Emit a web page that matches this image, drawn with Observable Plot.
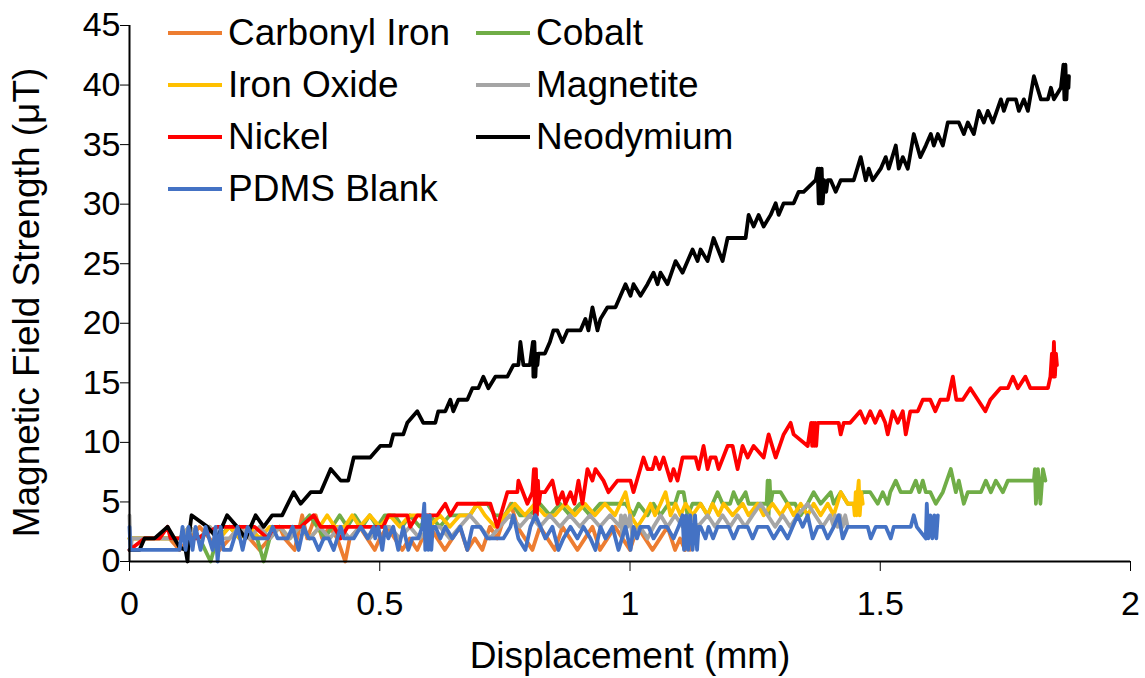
<!DOCTYPE html>
<html>
<head>
<meta charset="utf-8">
<script src="https://cdn.jsdelivr.net/npm/d3@7"></script>
<script src="https://cdn.jsdelivr.net/npm/@observablehq/plot@0.6"></script>
<style>
  html, body { margin: 0; padding: 0; background: #fff; }
  #chart { position: relative; width: 1145px; height: 678px; font-family: "Liberation Sans", Arial, sans-serif; color: #000; }
  #legend { position: absolute; left: 168px; top: 7px; display: grid; grid-template-columns: 308px auto; }
  .item { display: flex; align-items: center; height: 52px; font-size: 37px; white-space: nowrap; }
  .swatch { width: 54px; height: 4px; margin-right: 6px; flex: none; }
</style>
</head>
<body>
<div id="chart"><div id="legend"></div></div>
<script>
// Axis ticks and titles
const xTicks = [0, 0.5, 1, 1.5, 2];
const yTicks = [0, 5, 10, 15, 20, 25, 30, 35, 40, 45];
const xTitle = "Displacement (mm)";
const yTitle = "Magnetic Field Strength (\u03bcT)";

// Series names (legend order) and their line colours
const names = ["Carbonyl Iron", "Cobalt", "Iron Oxide", "Magnetite", "Nickel", "Neodymium", "PDMS Blank"];
const colors = ["#ED7D31", "#70AD47", "#FFC000", "#A5A5A5", "#FF0000", "#000000", "#4472C4"];

// Readings: [displacement (mm), field strength (µT)]
const carbonylIron = [[0,1.94],[0.06,1.94],[0.08,1.94],[0.1,0.97],[0.12,1.94],[0.14,2.91],[0.16,1.94],[0.18,0.97],[0.2,1.94],[0.22,2.91],[0.24,1.94],[0.26,0.97],[0.28,1.94],[0.3,2.91],[0.31,1.94],[0.33,0.97],[0.345,3.88],[0.355,1.94],[0.372,3.88],[0.385,1.94],[0.4,2.91],[0.415,1.94],[0.431,0],[0.44,1.94],[0.46,2.91],[0.475,1.94],[0.49,0.97],[0.5,1.94],[0.515,2.91],[0.53,1.94],[0.545,0.97],[0.56,1.94],[0.575,0.97],[0.585,1.94],[0.6,2.91],[0.615,1.94],[0.63,0.97],[0.645,1.94],[0.66,2.91],[0.675,0.97],[0.69,1.94],[0.705,0.97],[0.72,2.91],[0.735,1.94],[0.75,3.88],[0.762,4.85],[0.775,2.91],[0.79,1.94],[0.805,0.97],[0.82,2.91],[0.835,1.94],[0.85,0.97],[0.865,2.91],[0.88,1.94],[0.895,0.97],[0.91,1.94],[0.925,2.91],[0.94,0.97],[0.955,1.94],[0.97,2.91],[0.985,1.94],[1.0,0.97],[1.015,2.91],[1.03,1.94],[1.045,0.97],[1.06,1.94],[1.075,2.91],[1.09,0.97],[1.1,1.94],[1.11,0.97],[1.115,2.91],[1.12,0.97]];
const cobalt = [[0,1.94],[0.1,1.94],[0.12,2.91],[0.14,1.94],[0.162,0],[0.175,1.94],[0.2,2.91],[0.22,1.94],[0.24,2.91],[0.255,1.94],[0.268,0],[0.28,1.94],[0.3,2.91],[0.32,1.94],[0.34,2.91],[0.36,3.88],[0.375,2.91],[0.39,1.94],[0.405,2.91],[0.42,3.88],[0.435,2.91],[0.45,3.88],[0.465,2.91],[0.48,3.88],[0.495,2.91],[0.51,3.88],[0.53,3.88],[0.545,2.91],[0.56,3.88],[0.58,2.91],[0.6,3.88],[0.62,2.91],[0.64,3.88],[0.66,3.88],[0.68,3.88],[0.695,4.85],[0.715,4.85],[0.73,3.88],[0.75,3.88],[0.765,4.85],[0.78,3.88],[0.8,3.88],[0.82,4.85],[0.84,3.88],[0.86,4.85],[0.88,3.88],[0.9,4.85],[0.92,3.88],[0.94,4.85],[0.97,4.85],[0.991,4.85],[1.007,3.88],[1.017,4.85],[1.035,3.88],[1.047,4.85],[1.061,3.88],[1.077,4.85],[1.09,4.85],[1.097,5.82],[1.107,5.82],[1.115,3.88],[1.125,4.85],[1.141,4.85],[1.155,3.88],[1.175,5.82],[1.185,4.85],[1.2,4.85],[1.207,5.82],[1.217,4.85],[1.231,5.82],[1.237,4.85],[1.273,4.85],[1.275,6.79],[1.277,3.88],[1.279,6.79],[1.281,4.85],[1.285,5.82],[1.301,5.82],[1.315,4.85],[1.33,4.85],[1.341,3.88],[1.355,4.85],[1.367,5.82],[1.381,4.85],[1.401,5.82],[1.407,4.85],[1.421,5.82],[1.435,4.85],[1.45,4.85],[1.465,5.82],[1.48,5.82],[1.495,4.85],[1.505,5.82],[1.515,4.85],[1.52,5.82],[1.531,6.79],[1.541,5.82],[1.561,5.82],[1.571,6.79],[1.578,5.82],[1.585,6.79],[1.591,5.82],[1.6,5.82],[1.611,4.85],[1.625,5.82],[1.641,7.76],[1.651,5.82],[1.657,6.79],[1.667,4.85],[1.675,5.82],[1.701,5.82],[1.711,6.79],[1.721,5.82],[1.731,6.79],[1.745,5.82],[1.755,6.79],[1.807,6.79],[1.809,7.76],[1.811,4.85],[1.815,7.76],[1.82,4.85],[1.825,7.76],[1.83,6.79]];
const ironOxide = [[0,1.94],[0.1,1.94],[0.12,2.91],[0.14,1.94],[0.16,2.91],[0.18,1.94],[0.2,2.91],[0.22,1.94],[0.24,2.91],[0.26,1.94],[0.28,2.91],[0.3,2.91],[0.32,1.94],[0.34,2.91],[0.36,1.94],[0.38,2.91],[0.395,3.88],[0.41,2.91],[0.43,2.91],[0.445,3.88],[0.46,2.91],[0.48,3.88],[0.5,2.91],[0.52,3.88],[0.54,2.91],[0.56,3.88],[0.58,3.88],[0.6,2.91],[0.62,3.88],[0.64,2.91],[0.66,3.88],[0.68,3.88],[0.695,4.85],[0.71,3.88],[0.73,2.91],[0.75,3.88],[0.77,4.85],[0.79,3.88],[0.81,4.85],[0.83,3.88],[0.85,3.88],[0.87,4.85],[0.89,3.88],[0.91,4.85],[0.93,3.88],[0.95,4.85],[0.97,3.88],[0.991,5.82],[1.001,3.88],[1.015,2.91],[1.03,3.88],[1.041,4.85],[1.05,3.88],[1.061,4.85],[1.071,5.82],[1.081,3.88],[1.091,4.85],[1.101,3.88],[1.111,4.85],[1.125,3.88],[1.141,4.85],[1.155,3.88],[1.165,4.85],[1.177,3.88],[1.187,4.85],[1.205,3.88],[1.225,4.85],[1.237,3.88],[1.255,4.85],[1.267,3.88],[1.285,4.85],[1.301,3.88],[1.315,4.85],[1.327,3.88],[1.341,4.85],[1.355,3.88],[1.367,4.85],[1.381,3.88],[1.395,4.85],[1.407,3.88],[1.421,5.82],[1.435,4.85],[1.447,4.85],[1.449,3.88],[1.451,5.82],[1.453,3.88],[1.455,5.82],[1.457,6.79],[1.459,3.88],[1.462,5.82],[1.465,4.85]];
const magnetite = [[0,3.88],[0.002,0.97],[0.005,1.94],[0.1,1.94],[0.12,2.91],[0.14,1.94],[0.16,2.91],[0.18,1.94],[0.2,1.94],[0.22,2.91],[0.24,1.94],[0.26,2.91],[0.28,1.94],[0.3,2.91],[0.32,1.94],[0.34,2.91],[0.36,1.94],[0.38,2.91],[0.4,1.94],[0.42,2.91],[0.44,1.94],[0.46,2.91],[0.48,1.94],[0.5,2.91],[0.52,2.91],[0.54,1.94],[0.56,2.91],[0.58,1.94],[0.6,2.91],[0.62,2.91],[0.64,1.94],[0.66,2.91],[0.68,3.88],[0.7,2.91],[0.72,1.94],[0.74,2.91],[0.76,3.88],[0.78,2.91],[0.8,3.88],[0.82,2.91],[0.84,3.88],[0.86,2.91],[0.88,3.88],[0.9,2.91],[0.92,3.88],[0.94,2.91],[0.96,3.88],[0.98,2.91],[0.982,3.88],[0.985,1.94],[0.99,3.88],[0.995,2.91],[1.0,3.88],[1.005,1.94],[1.02,2.91],[1.035,1.94],[1.047,2.91],[1.061,3.88],[1.075,2.91],[1.09,3.88],[1.105,2.91],[1.12,3.88],[1.135,2.91],[1.155,3.88],[1.17,2.91],[1.185,3.88],[1.2,2.91],[1.215,3.88],[1.23,2.91],[1.245,3.88],[1.261,4.85],[1.275,3.88],[1.29,2.91],[1.305,3.88],[1.32,2.91],[1.335,3.88],[1.355,4.85],[1.37,3.88],[1.385,2.91],[1.4,3.88],[1.407,2.91],[1.41,3.88],[1.415,2.91],[1.42,3.88],[1.425,2.91],[1.43,3.88],[1.435,2.91]];
const nickel = [[0,0.97],[0.03,1.94],[0.06,1.94],[0.076,2.91],[0.082,1.94],[0.136,1.94],[0.176,2.91],[0.25,2.91],[0.276,1.94],[0.288,2.91],[0.342,2.91],[0.368,3.88],[0.382,2.91],[0.408,2.91],[0.422,1.94],[0.436,2.91],[0.507,2.91],[0.517,3.88],[0.555,3.88],[0.561,2.91],[0.575,3.88],[0.615,3.88],[0.631,4.85],[0.641,3.88],[0.655,4.85],[0.721,4.85],[0.735,2.91],[0.755,5.82],[0.775,5.82],[0.777,6.79],[0.795,4.85],[0.805,5.82],[0.808,7.76],[0.81,3.88],[0.812,7.76],[0.814,3.88],[0.816,6.79],[0.818,4.85],[0.821,5.82],[0.83,5.82],[0.845,6.79],[0.855,4.85],[0.865,5.82],[0.871,4.85],[0.881,5.82],[0.889,4.85],[0.897,6.79],[0.905,4.85],[0.915,7.76],[0.925,6.79],[0.931,7.76],[0.947,6.79],[0.957,5.82],[0.975,6.79],[1.001,6.79],[1.007,5.82],[1.027,8.73],[1.035,7.76],[1.045,7.76],[1.051,8.73],[1.059,7.76],[1.067,8.73],[1.081,6.79],[1.087,7.76],[1.095,6.79],[1.105,8.73],[1.131,8.73],[1.137,7.76],[1.147,9.7],[1.155,7.76],[1.161,8.73],[1.171,8.73],[1.177,7.76],[1.195,9.7],[1.205,9.7],[1.215,7.76],[1.225,9.7],[1.235,8.73],[1.247,9.7],[1.267,8.73],[1.277,10.67],[1.291,8.73],[1.307,10.67],[1.321,11.64],[1.327,10.67],[1.355,9.7],[1.362,11.64],[1.364,9.7],[1.366,11.64],[1.368,9.7],[1.37,11.64],[1.372,9.7],[1.375,11.64],[1.417,11.64],[1.421,10.67],[1.427,11.64],[1.44,11.64],[1.46,12.61],[1.47,11.64],[1.48,12.61],[1.49,11.64],[1.5,12.61],[1.51,11.64],[1.515,10.67],[1.525,12.61],[1.535,11.64],[1.545,12.61],[1.551,10.67],[1.56,12.61],[1.575,12.61],[1.585,13.58],[1.6,13.58],[1.61,12.61],[1.62,13.58],[1.635,13.58],[1.645,15.52],[1.652,13.58],[1.665,13.58],[1.68,14.55],[1.695,13.58],[1.71,12.61],[1.72,13.58],[1.74,14.55],[1.755,14.55],[1.765,15.52],[1.775,14.55],[1.79,15.52],[1.8,14.55],[1.835,14.55],[1.84,15.52],[1.843,17.46],[1.845,15.52],[1.847,18.43],[1.849,15.52],[1.851,17.46],[1.853,16.49]];
const neodymium = [[0,0.97],[0.02,0.97],[0.03,1.94],[0.05,1.94],[0.076,2.91],[0.1,1.2],[0.112,0.97],[0.116,0],[0.118,1.94],[0.124,3.88],[0.156,2.91],[0.175,1.94],[0.195,3.88],[0.215,2.91],[0.232,1.94],[0.252,3.88],[0.268,2.91],[0.285,3.88],[0.305,3.88],[0.328,5.82],[0.342,4.85],[0.362,5.82],[0.382,5.82],[0.402,7.76],[0.422,6.79],[0.437,6.79],[0.448,8.73],[0.481,8.73],[0.501,9.7],[0.521,9.7],[0.527,10.67],[0.547,10.67],[0.555,11.64],[0.575,12.61],[0.587,11.64],[0.601,11.64],[0.611,11.64],[0.617,12.61],[0.631,12.61],[0.641,13.58],[0.647,12.61],[0.657,13.58],[0.675,13.58],[0.685,14.55],[0.697,14.55],[0.707,15.52],[0.717,14.55],[0.731,15.52],[0.755,15.52],[0.767,16.49],[0.777,16.49],[0.781,18.43],[0.787,16.49],[0.8,16.49],[0.806,18.43],[0.807,15.52],[0.809,18.43],[0.811,15.52],[0.813,17.46],[0.815,16.49],[0.817,17.46],[0.83,17.46],[0.84,18.43],[0.847,19.4],[0.855,19.4],[0.865,18.43],[0.875,19.4],[0.901,19.4],[0.911,20.37],[0.917,19.4],[0.925,21.34],[0.935,19.4],[0.941,20.37],[0.955,21.34],[0.971,21.34],[0.981,22.31],[0.991,23.28],[1.001,22.31],[1.007,23.28],[1.021,22.31],[1.035,23.28],[1.047,24.25],[1.055,23.28],[1.061,24.25],[1.075,23.28],[1.091,25.22],[1.105,24.25],[1.125,26.19],[1.135,25.22],[1.141,26.19],[1.155,25.22],[1.167,27.16],[1.185,25.22],[1.195,27.16],[1.231,27.16],[1.237,29.1],[1.247,28.13],[1.257,29.1],[1.267,28.13],[1.281,29.1],[1.291,30.07],[1.297,29.1],[1.307,30.07],[1.327,30.07],[1.337,31.04],[1.347,31.04],[1.371,32.01],[1.375,32.98],[1.377,30.07],[1.379,32.98],[1.381,30.07],[1.383,32.98],[1.385,30.07],[1.388,32.01],[1.392,31.04],[1.395,32.01],[1.401,32.01],[1.411,31.04],[1.421,32.01],[1.447,32.01],[1.461,33.95],[1.471,32.01],[1.477,32.98],[1.485,32.01],[1.501,32.98],[1.511,33.95],[1.517,32.98],[1.531,34.92],[1.537,32.98],[1.545,33.95],[1.555,32.98],[1.567,35.89],[1.58,33.95],[1.591,34.92],[1.601,35.89],[1.607,34.92],[1.615,35.89],[1.625,34.92],[1.635,36.86],[1.657,36.86],[1.667,35.89],[1.675,36.86],[1.687,35.89],[1.697,37.83],[1.707,36.86],[1.715,37.83],[1.725,36.86],[1.741,38.8],[1.747,37.83],[1.755,38.8],[1.771,38.8],[1.777,37.83],[1.787,38.8],[1.795,37.83],[1.807,40.74],[1.821,38.8],[1.835,38.8],[1.841,39.77],[1.847,38.8],[1.861,39.77],[1.866,41.71],[1.868,38.8],[1.87,41.71],[1.872,38.8],[1.874,40.74],[1.876,39.77],[1.877,40.74]];
const pdmsBlank = [[0,2.91],[0.002,0.97],[0.1,0.97],[0.106,2.91],[0.112,0.97],[0.118,2.91],[0.126,0.97],[0.132,2.91],[0.142,0.97],[0.152,2.91],[0.166,0.97],[0.172,2.91],[0.176,0],[0.182,2.91],[0.188,0.97],[0.202,0.97],[0.216,2.91],[0.226,0.97],[0.236,2.91],[0.248,1.94],[0.276,1.94],[0.286,2.91],[0.296,1.94],[0.316,1.94],[0.326,2.91],[0.338,0.97],[0.348,2.91],[0.358,1.94],[0.368,1.94],[0.378,0.97],[0.388,1.94],[0.398,1.94],[0.408,0.97],[0.422,2.91],[0.428,1.94],[0.448,1.94],[0.462,2.91],[0.476,1.94],[0.488,2.91],[0.491,1.94],[0.497,2.91],[0.505,0.97],[0.511,2.91],[0.517,1.94],[0.527,2.91],[0.537,0.97],[0.547,2.91],[0.557,0.97],[0.565,1.94],[0.577,1.94],[0.585,2.91],[0.589,4.85],[0.591,0.97],[0.594,3.88],[0.597,0.97],[0.6,3.88],[0.603,0.97],[0.606,2.91],[0.611,2.91],[0.621,1.94],[0.631,2.91],[0.645,1.94],[0.661,2.91],[0.675,0.97],[0.685,2.91],[0.701,2.91],[0.715,1.94],[0.747,1.94],[0.761,2.91],[0.767,3.88],[0.777,1.94],[0.791,0.97],[0.801,2.91],[0.811,3.88],[0.821,2.91],[0.831,1.94],[0.845,2.91],[0.857,0.97],[0.867,1.94],[0.881,2.91],[0.895,1.94],[0.907,2.91],[0.921,1.94],[0.931,0.97],[0.941,2.91],[0.951,1.94],[0.965,2.91],[0.977,0.97],[0.991,2.91],[1.001,0.97],[1.007,2.91],[1.014,1.94],[1.021,2.91],[1.037,2.91],[1.047,1.94],[1.061,2.91],[1.074,2.91],[1.087,1.94],[1.097,2.91],[1.105,3.88],[1.108,0.97],[1.112,3.88],[1.116,0.97],[1.12,3.88],[1.125,0.97],[1.13,3.88],[1.134,0.97],[1.137,2.91],[1.141,2.91],[1.151,1.94],[1.157,2.91],[1.166,1.94],[1.175,2.91],[1.197,2.91],[1.207,1.94],[1.217,2.91],[1.235,2.91],[1.245,1.94],[1.255,2.91],[1.275,2.91],[1.287,1.94],[1.301,2.91],[1.315,1.94],[1.325,2.91],[1.335,3.88],[1.345,2.91],[1.355,3.88],[1.365,1.94],[1.375,2.91],[1.385,2.91],[1.395,1.94],[1.407,2.91],[1.417,3.88],[1.425,1.94],[1.435,2.91],[1.475,2.91],[1.481,1.94],[1.491,2.91],[1.511,2.91],[1.521,1.94],[1.527,2.91],[1.561,2.91],[1.567,3.88],[1.573,2.91],[1.591,1.94],[1.593,4.85],[1.596,1.94],[1.6,3.88],[1.604,1.94],[1.608,3.88],[1.612,1.94],[1.615,3.88]];

const seriesData = [carbonylIron, cobalt, ironOxide, magnetite, nickel, neodymium, pdmsBlank];

// Long-format table for the line mark, drawn in legend order (PDMS Blank on top)
const rows = names.flatMap((name, i) => seriesData[i].map(([x, y]) => ({series: name, x, y})));

const font = '"Liberation Sans", Arial, sans-serif';

const chart = Plot.plot({
  width: 1145,
  height: 678,
  marginLeft: 129,
  marginRight: 15,
  marginTop: 25,
  marginBottom: 117,
  style: {fontFamily: font, fontSize: "34px", color: "#000", background: "#fff", overflow: "visible"},
  x: {domain: [0, 2], ticks: xTicks, tickFormat: d => String(d), tickSize: 10, tickPadding: 19, label: null},
  y: {domain: [0, 45], ticks: yTicks, tickFormat: d => String(d), tickSize: 9, tickPadding: 0, label: null},
  color: {domain: names, range: colors},
  marks: [
    Plot.line(rows, {x: "x", y: "y", z: "series", stroke: "series", strokeWidth: 3.8, strokeLinejoin: "round", strokeLinecap: "round"}),
    Plot.ruleX([0], {stroke: "#000", strokeWidth: 2}),
    Plot.ruleY([0], {stroke: "#000", strokeWidth: 2}),
    Plot.text([xTitle], {frameAnchor: "bottom", dy: 106, fontSize: 37, fill: "#000"}),
    Plot.text([yTitle], {frameAnchor: "left", textAnchor: "middle", rotate: -90, dx: -102, dy: 9, fontSize: 37, fill: "#000"})
  ]
});

const holder = document.getElementById("chart");
holder.insertBefore(chart, holder.firstChild);

// Legend: two columns laid over the top-left of the plot area
const legend = d3.select("#legend");
names.forEach((name, i) => {
  const item = legend.append("div").attr("class", "item");
  item.append("div").attr("class", "swatch").style("background", colors[i]);
  item.append("span").text(name);
});
</script>
</body>
</html>
